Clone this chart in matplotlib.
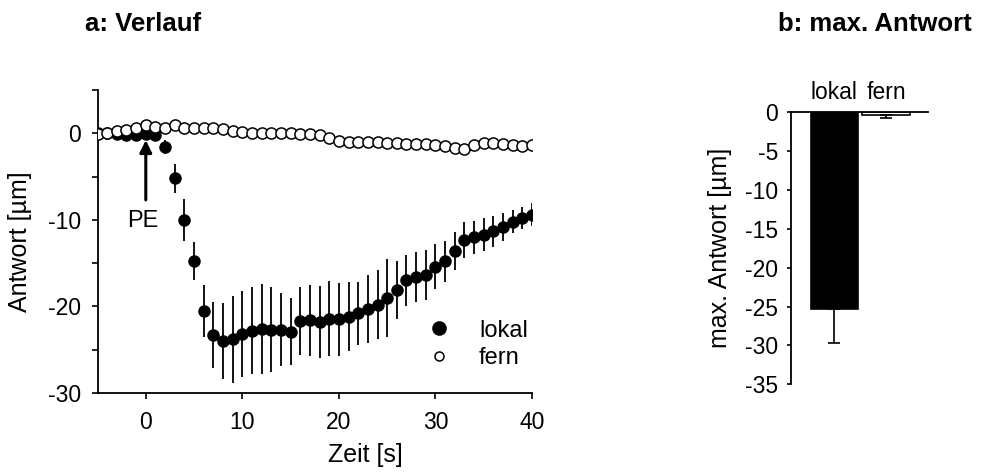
import numpy as np
import matplotlib
matplotlib.use('Agg')
import matplotlib.pyplot as plt

plt.rcParams['font.family'] = ['Liberation Sans', 'DejaVu Sans']
plt.rcParams['font.size'] = 16.5
plt.rcParams['axes.unicode_minus'] = False

# panel a: time course
zeit = np.arange(-5, 41)
lokal = [0.0, 0.0, -0.1, -0.2, -0.2, -0.1, -0.15, -1.6, -5.2, -10.0,
         -14.8, -20.5, -23.3, -24.0, -23.8, -23.2, -22.8, -22.6, -22.7, -22.7,
         -22.9, -21.7, -21.6, -21.8, -21.4, -21.5, -21.2, -20.8, -20.3, -19.8,
         -19.0, -18.1, -17.0, -16.6, -16.4, -15.4, -14.8, -13.6, -12.3, -12.0,
         -11.7, -11.3, -10.8, -10.2, -9.8, -9.4]
lokal_err = [0.2, 0.2, 0.2, 0.2, 0.2, 0.2, 0.2, 0.8, 1.7, 2.4,
             2.2, 3.0, 3.8, 4.4, 5.0, 5.0, 5.0, 5.2, 4.9, 4.2,
             3.85, 3.95, 4.1, 4.2, 4.3, 4.2, 4.0, 3.65, 3.9, 3.95,
             4.5, 3.4, 2.9, 2.9, 2.9, 2.6, 2.4, 2.2, 2.1, 1.9,
             1.9, 1.8, 1.6, 1.35, 1.3, 1.35]
fern = [-0.1, 0.0, 0.3, 0.4, 0.55, 0.9, 0.75, 0.55, 0.9, 0.55,
        0.55, 0.65, 0.55, 0.45, 0.3, 0.15, 0.05, 0.0, 0.05, 0.0,
        0.0, -0.1, -0.1, -0.2, -0.6, -0.9, -1.0, -1.0, -1.0, -1.0,
        -1.1, -1.1, -1.2, -1.25, -1.25, -1.4, -1.5, -1.7, -1.85, -1.4,
        -1.1, -1.1, -1.2, -1.4, -1.5, -1.4]

# panel b: max response
gruppen = ['lokal', 'fern']
max_antwort = [-25.3, -0.3]
max_err = [4.4, 0.45]

fig = plt.figure(figsize=(9.81, 4.76), dpi=100)

ax = fig.add_axes([0.0994, 0.1744, 0.4429, 0.6366])
ax.errorbar(zeit, lokal, yerr=lokal_err, fmt='none', ecolor='black',
            elinewidth=1.3, capsize=0, zorder=1)
ax.plot(zeit, lokal, 'o', color='black', ms=8, label='lokal', zorder=2)
ax.plot(zeit, fern, 'o', mfc='white', mec='black', mew=1.1, ms=8,
        label='fern', zorder=3)
ax.annotate('', xy=(0, -0.8), xytext=(0, -7.7),
            arrowprops=dict(arrowstyle='-|>', color='black', lw=2.2,
                            mutation_scale=18, shrinkA=0, shrinkB=0))
ax.text(-0.3, -10.1, 'PE', ha='center', va='center', fontsize=17)

ax.set_xlim(-5, 40)
ax.set_ylim(-30, 5)
ax.set_xticks([0, 10, 20, 30, 40])
ax.set_yticks([-30, -20, -10, 0])
ax.set_yticks([-25, -15, -5, 5], minor=True)
ax.spines['top'].set_visible(False)
ax.spines['right'].set_visible(False)
ax.spines['left'].set_linewidth(1.3)
ax.spines['bottom'].set_linewidth(1.3)
ax.tick_params(axis='both', which='both', direction='out', length=4,
               width=1.2)
ax.tick_params(axis='x', pad=9)
ax.tick_params(axis='y', pad=8)
ax.set_xlabel('Zeit [s]', fontsize=18)
ax.set_ylabel('Antwort [µm]', fontsize=18)
ax.xaxis.set_label_coords(0.616, -0.165)
ax.yaxis.set_label_coords(-0.151, 0.5)
leg = ax.legend(loc='center left', bbox_to_anchor=(0.726, 0.16),
                frameon=False, fontsize=17, handletextpad=1.1,
                handlelength=1.2, labelspacing=0.25, borderpad=0,
                numpoints=1)
leg.legend_handles[0].set_markersize(9.5)
leg.legend_handles[1].set_markersize(6.5)

bx = fig.add_axes([0.806, 0.1926, 0.140, 0.5714])
pos = np.arange(len(gruppen))
bx.bar(pos, max_antwort, width=0.92, color=['black', 'white'],
       edgecolor='black', linewidth=1.2)
bx.errorbar(pos, max_antwort, yerr=[max_err, [0, 0]], fmt='none',
            ecolor='black', elinewidth=1.2, capsize=4, capthick=1.2)
bx.set_xlim(-0.843, 1.81)
bx.set_ylim(-35, 0)
bx.set_yticks(np.arange(-35, 1, 5))
bx.xaxis.tick_top()
bx.set_xticks(pos)
bx.set_xticklabels(gruppen)
bx.tick_params(axis='x', length=0, pad=6)
bx.tick_params(axis='y', direction='out', length=3, width=1.2, pad=6)
bx.spines['bottom'].set_visible(False)
bx.spines['right'].set_visible(False)
bx.spines['left'].set_linewidth(1.3)
bx.spines['top'].set_linewidth(1.3)
bx.set_ylabel('max. Antwort [µm]', fontsize=18)
bx.yaxis.set_label_coords(-0.427, 0.5)

fig.text(0.087, 0.935, 'a: Verlauf', fontweight='bold', ha='left',
         va='baseline', fontsize=18.5)
fig.text(0.991, 0.935, 'b: max. Antwort', fontweight='bold', ha='right',
         va='baseline', fontsize=18.5)

fig.savefig('out.png', dpi=100)
